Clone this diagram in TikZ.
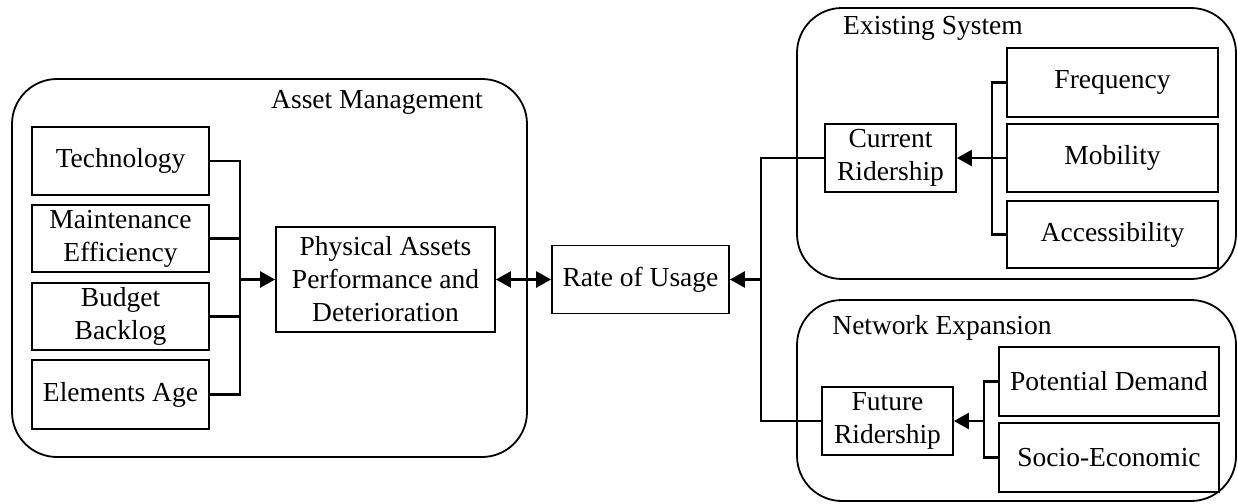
\documentclass[tikz,border=0pt]{standalone}
\usepackage{fontspec}
\setmainfont{Liberation Serif}
\usetikzlibrary{arrows.meta}
\begin{document}
\begin{tikzpicture}[x=1pt,y=-1pt,
  every node/.style={font=\fontsize{27.5}{33}\selectfont, align=center, inner sep=0pt},
  box/.style={draw, line width=1.8pt},
  group/.style={draw, line width=1.8pt, rounded corners=45pt},
  lbl/.style={},
  conn/.style={line width=2.6pt},
  >={Triangle[length=15pt,width=16pt]}]
\useasboundingbox (0,0) rectangle (1238,503);
% groups
\node[group, minimum width=515pt, minimum height=378pt] (asset) at (269.5,268) {};
\node[group, minimum width=439pt, minimum height=271pt] (exist) at (1016.5,143.5) {};
\node[group, minimum width=439pt, minimum height=201pt] (netw) at (1016.5,400.5) {};
\node[lbl] (assetl) at (377,102) {Asset Management};
\node[lbl] (existl) at (933,28) {Existing System};
\node[lbl] (netwl) at (942,328) {Network Expansion};
% left boxes
\node[box, minimum width=177pt, minimum height=68pt] (tech) at (120.5,161) {Technology};
\node[box, minimum width=177pt, minimum height=67pt] (maint) at (120.5,238.5) {Maintenance\\Efficiency};
\node[box, minimum width=177pt, minimum height=67pt] (budget) at (120.5,316.5) {Budget\\Backlog};
\node[box, minimum width=177pt, minimum height=69pt] (elem) at (120.5,394.5) {Elements Age};
\node[box, minimum width=219pt, minimum height=105pt] (phys) at (385.5,279.5) {Physical Assets\\Performance and\\Deterioration};
\node[box, minimum width=177pt, minimum height=68pt] (rate) at (640.5,279.5) {Rate of Usage};
% right
\node[box, minimum width=131pt, minimum height=68pt] (cur) at (890.5,158) {Current\\Ridership};
\node[box, minimum width=131pt, minimum height=68pt] (fut) at (887.5,421) {Future\\Ridership};
\node[box, minimum width=211pt, minimum height=69pt] (freq) at (1112.5,82.5) {Frequency};
\node[box, minimum width=211pt, minimum height=68pt] (mob) at (1112.5,158) {Mobility};
\node[box, minimum width=211pt, minimum height=67pt] (acc) at (1112.5,234.5) {Accessibility};
\node[box, minimum width=220pt, minimum height=69pt] (pot) at (1109,381.5) {Potential Demand};
\node[box, minimum width=220pt, minimum height=69pt] (soc) at (1109,457.5) {Socio-Economic};
% bus coordinates
\coordinate (lb) at (240,279.5);
\coordinate (rb) at (761,279.5);
\coordinate (eb) at (992,158);
\coordinate (nb) at (984,421);
% connectors
\draw[conn] (tech.east) -| (lb) |- (elem.east);
\draw[conn] (maint.east) -- (maint.east -| lb);
\draw[conn] (budget.east) -- (budget.east -| lb);
\draw[conn,->] (lb) -- (phys.west);
\draw[conn,<->] (phys.east) -- (rate.west);
\draw[conn] (cur.west) -| (rb) |- (fut.west);
\draw[conn,->] (rb) -- (rate.east);
\draw[conn] (freq.west) -| (eb) |- (acc.west);
\draw[conn] (mob.west) -- (eb);
\draw[conn,->] (eb) -- (cur.east);
\draw[conn] (pot.west) -| (nb) |- (soc.west);
\draw[conn,->] (nb) -- (fut.east);
\end{tikzpicture}
\end{document}
